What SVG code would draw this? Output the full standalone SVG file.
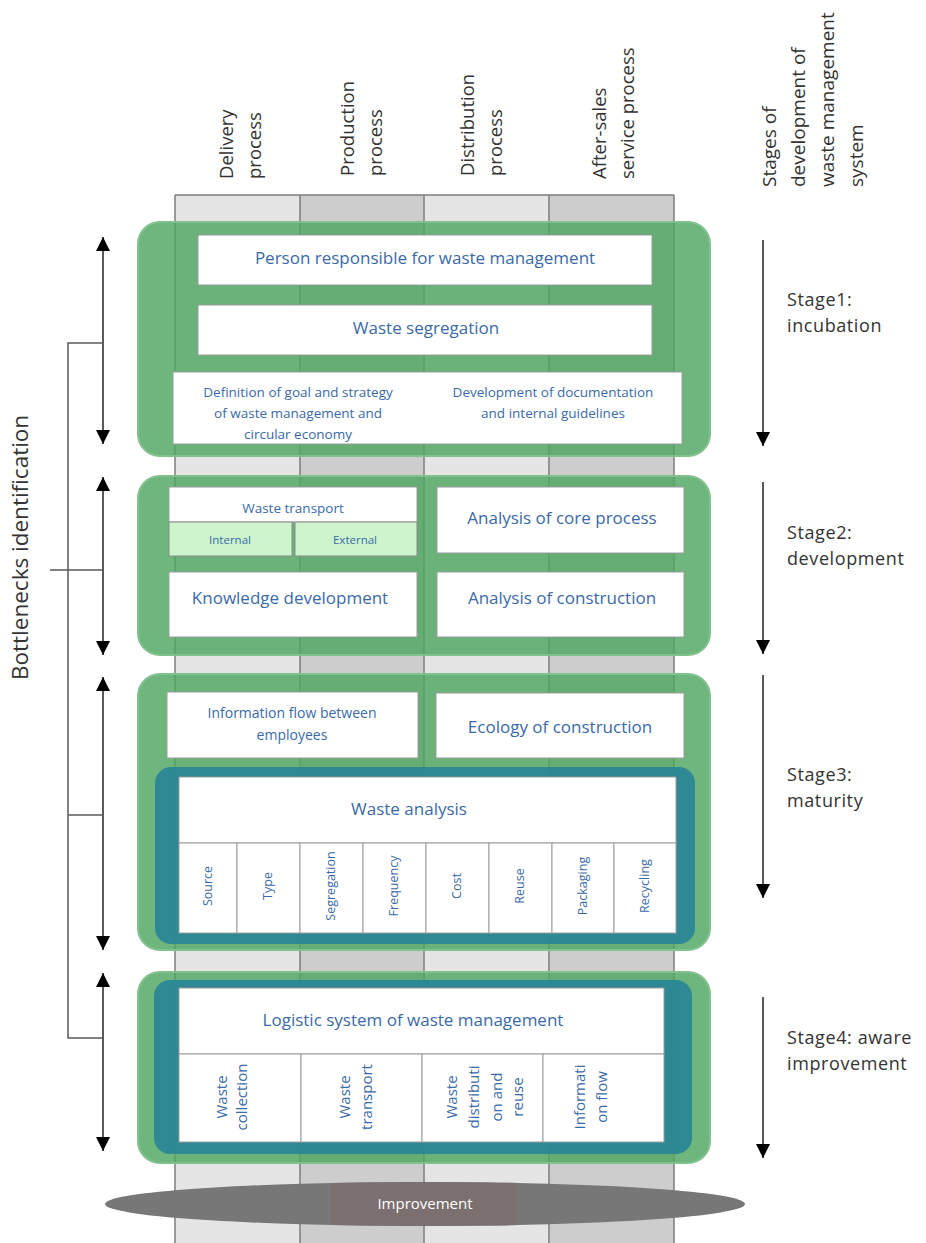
<svg xmlns="http://www.w3.org/2000/svg" width="926" height="1243" viewBox="0 0 926 1243">
<style>
.s1{fill:#e5e5e5}.s2{fill:#cdcdcd}
.col{stroke:#7d7d7d;stroke-width:1.5}
.stage{fill:#4ea661;fill-opacity:0.82;stroke:#80c18d;stroke-width:2}
.teal{fill:#2a8696;fill-opacity:0.94}
.box{fill:#ffffff;stroke:#9c9c9c;stroke-width:1}
.sub{fill:#cdf4cd;stroke:#8a8a8a;stroke-width:1}
.t{font-family:'Open Sans','Liberation Sans',sans-serif;fill:#3a6aa8;text-anchor:middle}
.big{font-size:17px}
.sm{font-size:13.5px}
.xs{font-size:12.5px}
.hd{font-family:'Open Sans','Liberation Sans',sans-serif;fill:#333333;font-size:18.5px}
.rh{font-family:'Open Sans','Liberation Sans',sans-serif;fill:#333333;font-size:19px}
.st{font-family:'Open Sans','Liberation Sans',sans-serif;fill:#333333;font-size:18px;letter-spacing:0.6px}
.ar{stroke:#5a5a5a;stroke-width:2;fill:none}
.br{stroke:#5a5a5a;stroke-width:1.5;fill:none}
</style>
<defs>
<marker id="ah" viewBox="0 0 10 10" refX="10" refY="5" markerUnits="userSpaceOnUse" markerWidth="14" markerHeight="14" orient="auto-start-reverse">
<path d="M0,0 L10,5 L0,10 z" fill="#000"/>
</marker>
<clipPath id="ec"><ellipse cx="425" cy="1204" rx="320" ry="22"/></clipPath>
</defs>

<g id="columns">
<rect class="s1" x="175" y="195" width="125" height="1048"/>
<rect class="s2" x="300" y="195" width="124" height="1048"/>
<rect class="s1" x="424" y="195" width="125" height="1048"/>
<rect class="s2" x="549" y="195" width="125" height="1048"/>
<line class="col" x1="175" y1="195" x2="674" y2="195"/>
<line class="col" x1="175" y1="195" x2="175" y2="1243"/>
<line class="col" x1="300" y1="195" x2="300" y2="1243"/>
<line class="col" x1="424" y1="195" x2="424" y2="1243"/>
<line class="col" x1="549" y1="195" x2="549" y2="1243"/>
<line class="col" x1="674" y1="195" x2="674" y2="1243"/>
</g>

<g id="headers">
<text class="hd" transform="translate(233,179) rotate(-90)">Delivery</text>
<text class="hd" transform="translate(261,179) rotate(-90)">process</text>
<text class="hd" transform="translate(354,176) rotate(-90)">Production</text>
<text class="hd" transform="translate(382,176) rotate(-90)">process</text>
<text class="hd" transform="translate(474,176) rotate(-90)">Distribution</text>
<text class="hd" transform="translate(502,176) rotate(-90)">process</text>
<text class="hd" transform="translate(606,179) rotate(-90)">After-sales</text>
<text class="hd" transform="translate(634,179) rotate(-90)">service process</text>
<text class="rh" transform="translate(776,187) rotate(-90)">Stages of</text>
<text class="rh" transform="translate(805,187) rotate(-90)">development of</text>
<text class="rh" transform="translate(834,187) rotate(-90)">waste management</text>
<text class="rh" transform="translate(863,187) rotate(-90)">system</text>
<text class="hd" style="font-size:22.5px" transform="translate(28,680) rotate(-90)">Bottlenecks identification</text>
</g>

<g id="stage1">
<rect class="stage" x="138" y="222" width="572" height="234" rx="22"/>
<rect class="box" x="198" y="235" width="454" height="50"/>
<text class="t big" x="425" y="264">Person responsible for waste management</text>
<rect class="box" x="198" y="305" width="454" height="50"/>
<text class="t big" x="426" y="334">Waste segregation</text>
<rect class="box" x="173" y="372" width="509" height="72"/>
<text class="t sm" x="298" y="397">Definition of goal and strategy</text>
<text class="t sm" x="298" y="418">of waste management and</text>
<text class="t sm" x="298" y="439">circular economy</text>
<text class="t sm" x="553" y="397">Development of documentation</text>
<text class="t sm" x="553" y="418">and internal guidelines</text>
</g>

<g id="stage2">
<rect class="stage" x="138" y="476" width="572" height="179" rx="22"/>
<rect class="box" x="169" y="487" width="248" height="35"/>
<text class="t sm" x="293" y="513">Waste transport</text>
<rect class="sub" x="169" y="522" width="123" height="34"/>
<text class="t" style="font-size:11.5px" x="230" y="544">Internal</text>
<rect class="sub" x="295" y="522" width="122" height="34"/>
<text class="t" style="font-size:11.5px" x="355" y="544">External</text>
<rect class="box" x="437" y="487" width="247" height="66"/>
<text class="t big" x="562" y="524">Analysis of core process</text>
<rect class="box" x="169" y="572" width="248" height="65"/>
<text class="t big" x="290" y="604">Knowledge development</text>
<rect class="box" x="437" y="572" width="247" height="65"/>
<text class="t big" x="562" y="604">Analysis of construction</text>
</g>

<g id="stage3">
<rect class="stage" x="138" y="674" width="572" height="276" rx="22"/>
<rect class="box" x="167" y="692" width="251" height="66"/>
<text class="t" style="font-size:14px" x="292" y="718">Information flow between</text>
<text class="t" style="font-size:14px" x="292" y="740">employees</text>
<rect class="box" x="436" y="693" width="248" height="65"/>
<text class="t big" x="560" y="733">Ecology of construction</text>
<rect class="teal" x="155" y="767" width="540" height="177" rx="16"/>
<rect class="box" x="179" y="777" width="497" height="66"/>
<text class="t big" x="409" y="815">Waste analysis</text>
<g id="wa-cells">
<rect class="box" x="179" y="843" width="58" height="90"/>
<rect class="box" x="237" y="843" width="63" height="90"/>
<rect class="box" x="300" y="843" width="63" height="90"/>
<rect class="box" x="363" y="843" width="63" height="90"/>
<rect class="box" x="426" y="843" width="63" height="90"/>
<rect class="box" x="489" y="843" width="63" height="90"/>
<rect class="box" x="552" y="843" width="62" height="90"/>
<rect class="box" x="614" y="843" width="62" height="90"/>
<text class="t xs" dy="0.35em" transform="translate(208,886) rotate(-90)">Source</text>
<text class="t xs" dy="0.35em" transform="translate(268,886) rotate(-90)">Type</text>
<text class="t xs" dy="0.35em" transform="translate(331,886) rotate(-90)">Segregation</text>
<text class="t xs" dy="0.35em" transform="translate(394,886) rotate(-90)">Frequency</text>
<text class="t xs" dy="0.35em" transform="translate(457,886) rotate(-90)">Cost</text>
<text class="t xs" dy="0.35em" transform="translate(520,886) rotate(-90)">Reuse</text>
<text class="t xs" dy="0.35em" transform="translate(583,886) rotate(-90)">Packaging</text>
<text class="t xs" dy="0.35em" transform="translate(645,886) rotate(-90)">Recycling</text>
</g>
</g>

<g id="stage4">
<rect class="stage" x="138" y="972" width="572" height="191" rx="22"/>
<rect class="teal" x="154" y="980" width="538" height="174" rx="16"/>
<rect class="box" x="179" y="988" width="485" height="66"/>
<text class="t big" x="413" y="1026">Logistic system of waste management</text>
<g id="ls-cells">
<rect class="box" x="179" y="1054" width="122" height="88"/>
<rect class="box" x="301" y="1054" width="121" height="88"/>
<rect class="box" x="422" y="1054" width="121" height="88"/>
<rect class="box" x="543" y="1054" width="121" height="88"/>
<text class="t" style="font-size:15px" dy="0.35em" transform="translate(222,1097) rotate(-90)">Waste</text>
<text class="t" style="font-size:15px" dy="0.35em" transform="translate(242,1097) rotate(-90)">collection</text>
<text class="t" style="font-size:15px" dy="0.35em" transform="translate(345,1097) rotate(-90)">Waste</text>
<text class="t" style="font-size:15px" dy="0.35em" transform="translate(367,1097) rotate(-90)">transport</text>
<text class="t" style="font-size:15px" dy="0.35em" transform="translate(452,1097) rotate(-90)">Waste</text>
<text class="t" style="font-size:15px" dy="0.35em" transform="translate(474,1097) rotate(-90)">distributi</text>
<text class="t" style="font-size:15px" dy="0.35em" transform="translate(497,1097) rotate(-90)">on and</text>
<text class="t" style="font-size:15px" dy="0.35em" transform="translate(518,1097) rotate(-90)">reuse</text>
<text class="t" style="font-size:15px" dy="0.35em" transform="translate(580,1097) rotate(-90)">Informati</text>
<text class="t" style="font-size:15px" dy="0.35em" transform="translate(602,1097) rotate(-90)">on flow</text>
</g>
</g>

<g id="improvement">
<ellipse cx="425" cy="1204" rx="320" ry="22" fill="#777777"/>
<rect x="331" y="1180" width="185" height="48" fill="#7b6f6f" clip-path="url(#ec)"/>
<text x="425" y="1209" style="font-family:'Open Sans','Liberation Sans',sans-serif;font-size:15px;fill:#ffffff;text-anchor:middle">Improvement</text>
</g>

<g id="stage-labels">
<text class="st" x="787" y="306">Stage1:</text>
<text class="st" x="787" y="332">incubation</text>
<text class="st" x="787" y="539">Stage2:</text>
<text class="st" x="787" y="565">development</text>
<text class="st" x="787" y="781">Stage3:</text>
<text class="st" x="787" y="807">maturity</text>
<text class="st" x="787" y="1044">Stage4: aware</text>
<text class="st" x="787" y="1070">improvement</text>
</g>

<g id="connectors">
<line class="ar" x1="103" y1="237" x2="103" y2="444" marker-start="url(#ah)" marker-end="url(#ah)"/>
<line class="ar" x1="103" y1="477" x2="103" y2="655" marker-start="url(#ah)" marker-end="url(#ah)"/>
<line class="ar" x1="103" y1="677" x2="103" y2="950" marker-start="url(#ah)" marker-end="url(#ah)"/>
<line class="ar" x1="103" y1="973" x2="103" y2="1151" marker-start="url(#ah)" marker-end="url(#ah)"/>
<path class="br" d="M103,343 H68 V1038 H103 M50,570 H103 M68,815 H103"/>
<line class="ar" x1="763" y1="240" x2="763" y2="446" marker-end="url(#ah)"/>
<line class="ar" x1="763" y1="482" x2="763" y2="654" marker-end="url(#ah)"/>
<line class="ar" x1="763" y1="675" x2="763" y2="898" marker-end="url(#ah)"/>
<line class="ar" x1="763" y1="997" x2="763" y2="1158" marker-end="url(#ah)"/>
</g>
</svg>
